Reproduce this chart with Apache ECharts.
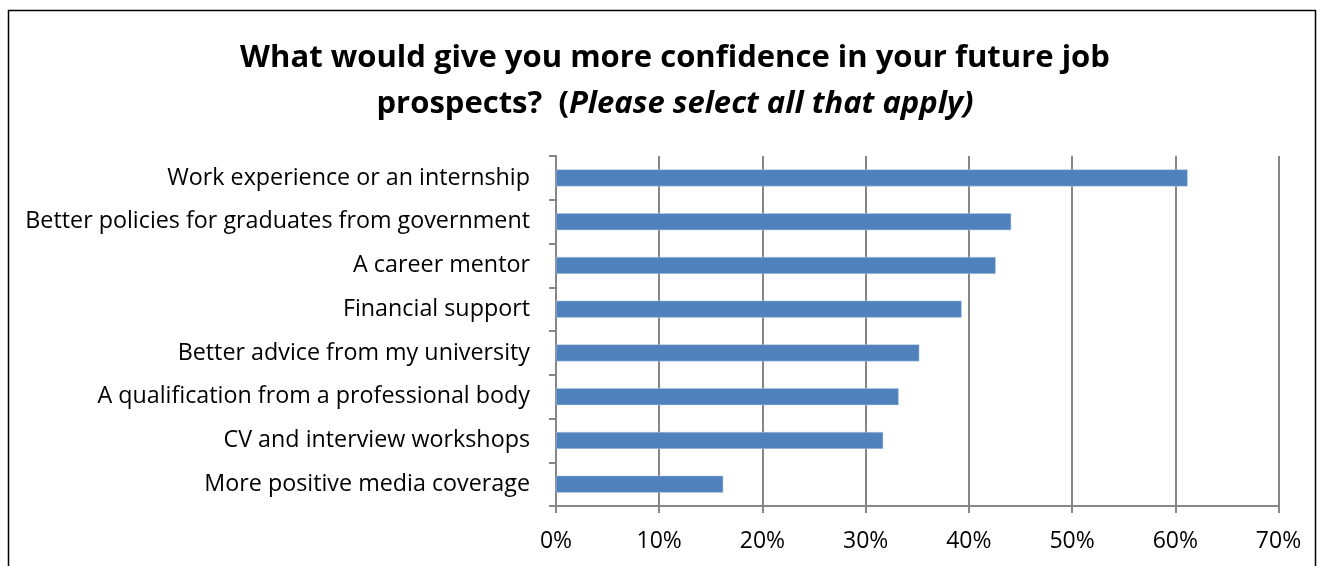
<!DOCTYPE html>
<html><head><meta charset="utf-8">
<script src="https://cdn.jsdelivr.net/npm/echarts@6/dist/echarts.min.js"></script>
<style>html,body{margin:0;padding:0;background:#fff}#c{width:1324px;height:566px}</style>
</head><body><div id="c"></div>
<script>
const categories = [
  "Work experience or an internship",
  "Better policies for graduates from government",
  "A career mentor",
  "Financial support",
  "Better advice from my university",
  "A qualification from a professional body",
  "CV and interview workshops",
  "More positive media coverage"
];
const values = [0.612, 0.441, 0.426, 0.393, 0.352, 0.332, 0.317, 0.162];
const tickLabels = ["0%","10%","20%","30%","40%","50%","60%","70%"];

const FONT = "'Open Sans', sans-serif";
const chart = echarts.init(document.getElementById('c'), null, {renderer:'canvas'});
chart.setOption({
  animation:false,
  backgroundColor:'#fff',
  graphic:[{type:'rect', shape:{x:8.5,y:10.5,width:1307,height:600}, style:{fill:'none',stroke:'#000',lineWidth:1.5}, silent:true, z:-1}],
  title:{
    top:30, textAlign:'center',
    text:'{b|What would give you more confidence in your future job}\n{b|prospects?  (}{bi|Please select all that apply)}',
    left:670,
    textStyle:{
      rich:{
        b:{fontFamily:FONT,fontWeight:'bold',fontSize:31,color:'#000',lineHeight:46},
        bi:{fontFamily:FONT,fontWeight:'bold',fontStyle:'italic',fontSize:31,color:'#000',lineHeight:46}
      }
    }
  },
  grid:{left:556,right:45.5,top:156,bottom:60,containLabel:false},
  xAxis:{
    type:'value', min:0, max:0.7, interval:0.1,
    axisLine:{show:true,lineStyle:{color:'#868686',width:2}},
    axisTick:{show:true,length:7,lineStyle:{color:'#868686',width:2}},
    splitLine:{show:true,lineStyle:{color:'#868686',width:2}},
    axisLabel:{fontFamily:FONT,fontSize:23,color:'#000',margin:24,
      formatter:function(v){return tickLabels[Math.round(v*10)];}}
  },
  yAxis:{
    type:'category', data:categories, inverse:true,
    axisLine:{show:true,lineStyle:{color:'#868686',width:2}},
    axisTick:{show:true,length:7,inside:false,alignWithLabel:false,lineStyle:{color:'#868686',width:2}},
    axisLabel:{fontFamily:FONT,fontSize:23.3,color:'#000',margin:26}
  },
  series:[{
    type:'bar', data:values, barWidth:17,
    itemStyle:{color:'#4f81bd',borderColor:'#b9cde5',borderWidth:0.5}
  }]
});
</script></body></html>
